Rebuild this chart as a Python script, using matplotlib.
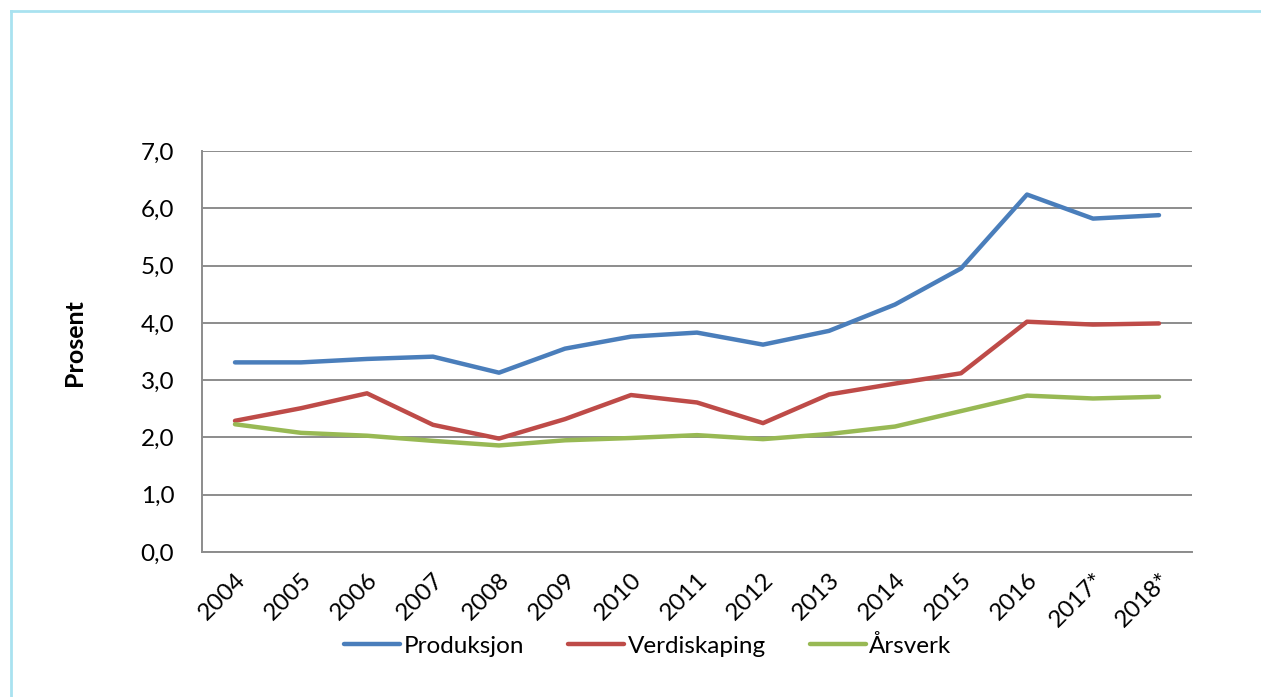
import matplotlib
matplotlib.use("Agg")
import matplotlib.pyplot as plt
from matplotlib.lines import Line2D

years = ["2004", "2005", "2006", "2007", "2008", "2009", "2010", "2011",
         "2012", "2013", "2014", "2015", "2016", "2017*", "2018*"]
produksjon = [3.31, 3.31, 3.37, 3.41, 3.13, 3.55, 3.76, 3.83,
              3.62, 3.86, 4.32, 4.95, 6.24, 5.82, 5.88]
verdiskaping = [2.29, 2.51, 2.77, 2.22, 1.98, 2.32, 2.74, 2.61,
                2.25, 2.75, 2.94, 3.12, 4.02, 3.97, 3.99]
arsverk = [2.23, 2.08, 2.03, 1.94, 1.86, 1.95, 1.99, 2.04,
           1.97, 2.06, 2.19, 2.46, 2.73, 2.68, 2.71]
series_names = ["Produksjon", "Verdiskaping", "Årsverk"]
yticks = [0, 1, 2, 3, 4, 5, 6, 7]

plt.rcParams['font.family'] = ['Lato', 'DejaVu Sans']

W, H = 1261, 697
fig = plt.figure(figsize=(W / 100, H / 100), dpi=100)
fig.patch.set_facecolor("white")

# light cyan frame (left and top)
fig.add_artist(Line2D([10.5 / W, 10.5 / W], [0, 1 - 10.5 / H], transform=fig.transFigure,
                      color="#A9E2F0", lw=2))
fig.add_artist(Line2D([10.5 / W, 1], [1 - 10.5 / H, 1 - 10.5 / H], transform=fig.transFigure,
                      color="#A9E2F0", lw=2))

ax = fig.add_axes([202 / W, 1 - 552 / H, (1192 - 202) / W, (552 - 151) / H])
x = list(range(len(years)))
colors = ["#4A7EBB", "#BE4B48", "#98B954"]
for vals, name, c in zip([produksjon, verdiskaping, arsverk], series_names, colors):
    ax.plot(x, vals, color=c, lw=3.2, label=name, solid_capstyle="round",
            solid_joinstyle="round", zorder=3)

ax.set_xlim(-0.5, len(years) - 0.5)
ax.set_ylim(0, 7)
ax.set_yticks(yticks)
ax.set_yticklabels([f"{v:.1f}".replace(".", ",") for v in yticks], fontsize=17.5)
ax.set_xticks(x)
ax.set_xticklabels(years, rotation=45, ha="right", va="top", rotation_mode="anchor",
                   fontsize=17.5)
ax.tick_params(axis="both", length=0)
ax.tick_params(axis="y", pad=20)
ax.tick_params(axis="x", pad=12)
ax.grid(axis="y", color="#8C8C8C", lw=1.4, zorder=1)
for s in ["top", "right"]:
    ax.spines[s].set_visible(False)
for s in ["left", "bottom"]:
    ax.spines[s].set_color("#8C8C8C")
    ax.spines[s].set_linewidth(1.4)

fig.text(75 / W, 1 - 343 / H, "Prosent", rotation=90, ha="center", va="center",
         fontsize=18, fontweight="bold")

leg = fig.legend(*ax.get_legend_handles_labels(), loc="center",
                 bbox_to_anchor=(648 / W, 1 - 646 / H), ncol=3,
                 frameon=False, fontsize=17.5, handlelength=2.3, columnspacing=1.8,
                 handletextpad=0.15)

fig.savefig("out.png", dpi=100, facecolor="white")
